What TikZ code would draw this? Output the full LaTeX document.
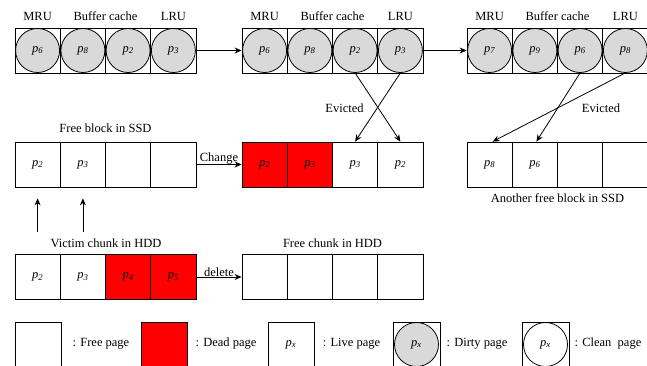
\documentclass[tikz,border=0pt]{standalone}
\usepackage{fontspec}
\setmainfont{Liberation Serif}
\usetikzlibrary{arrows.meta}
\newcommand\pg[1]{{\itshape p\textsubscript{#1}}}
\begin{document}
\begin{tikzpicture}[x=1pt,y=-1pt,
  every node/.style={font=\fontsize{12.5}{15}\selectfont},
  cell/.style={draw, line width=0.8pt, minimum width=45.25pt, minimum height=45pt, inner sep=0pt},
  dead/.style={cell, fill=red},
  dirty/.style={draw, line width=0.8pt, circle, minimum size=44pt, inner sep=0pt, fill=black!15},
  clean/.style={draw, line width=0.8pt, circle, minimum size=44pt, inner sep=0pt},
  lbl/.style={inner sep=1pt},
  arr/.style={line width=0.8pt, -{Stealth[length=7pt,width=6pt]}},
  ln/.style={line width=0.8pt}
]
\useasboundingbox (0,0) rectangle (647,366);
% ---- Row 1: buffer caches ----
\foreach \n/\x in {1/37.6,2/82.9,3/128.1,4/173.4}{\node[cell] (a\n) at (\x,50.5) {};}
\foreach \n/\x in {1/264.6,2/309.9,3/355.1,4/400.4}{\node[cell] (b\n) at (\x,50.5) {};}
\foreach \n/\x in {1/489.6,2/534.9,3/580.1,4/625.4}{\node[cell] (c\n) at (\x,50.5) {};}
\node[dirty] (a1c) at (a1) {\pg{6}};
\node[dirty] (a2c) at (a2) {\pg{8}};
\node[dirty] (a3c) at (a3) {\pg{2}};
\node[dirty] (a4c) at (a4) {\pg{3}};
\node[dirty] (b1c) at (b1) {\pg{6}};
\node[dirty] (b2c) at (b2) {\pg{8}};
\node[dirty] (b3c) at (b3) {\pg{2}};
\node[dirty] (b4c) at (b4) {\pg{3}};
\node[dirty] (c1c) at (c1) {\pg{7}};
\node[dirty] (c2c) at (c2) {\pg{9}};
\node[dirty] (c3c) at (c3) {\pg{6}};
\node[dirty] (c4c) at (c4) {\pg{8}};
\node[lbl] (amru) at (37.6,16) {MRU};
\node[lbl] (abc) at (105.5,16) {Buffer cache};
\node[lbl] (alru) at (173.4,16) {LRU};
\node[lbl] (bmru) at (264.6,16) {MRU};
\node[lbl] (bbc) at (332.5,16) {Buffer cache};
\node[lbl] (blru) at (400.4,16) {LRU};
\node[lbl] (cmru) at (489.6,16) {MRU};
\node[lbl] (cbc) at (557.5,16) {Buffer cache};
\node[lbl] (clru) at (625.4,16) {LRU};
\draw[arr] (a4.east) -- (b1.west);
\draw[arr] (b4.east) -- (c1.west);
% ---- Row 2: SSD blocks ----
\node[cell] (f1) at (37.6,164.5) {\pg{2}};
\node[cell] (f2) at (82.9,164.5) {\pg{3}};
\node[cell] (f3) at (128.1,164.5) {};
\node[cell] (f4) at (173.4,164.5) {};
\node[dead] (r1) at (264.6,164.5) {\pg{2}};
\node[dead] (r2) at (309.9,164.5) {\pg{3}};
\node[cell] (r3) at (355.1,164.5) {\pg{3}};
\node[cell] (r4) at (400.4,164.5) {\pg{2}};
\node[cell] (s1) at (489.6,164.5) {\pg{8}};
\node[cell] (s2) at (534.9,164.5) {\pg{6}};
\node[cell] (s3) at (580.1,164.5) {};
\node[cell] (s4) at (625.4,164.5) {};
\node[lbl] (fl) at (105.5,128) {Free block in SSD};
\node[lbl] (sl) at (557.5,198) {Another free block in SSD};
\draw[arr] (f4.east) -- node[lbl, above, yshift=-1pt] {Change} (r1.west);
\draw[arr] (b3c.south) -- (r4.north);
\draw[arr] (b4c.south) -- (r3.north);
\node[lbl] (ev1) at (344.5,108) {Evicted};
\draw[arr] (c4c.south) -- ([xshift=3pt]s1.north);
\draw[arr] (c3c.south) -- ([xshift=1.5pt]s2.north);
\node[lbl] (ev2) at (601,108) {Evicted};
% ---- Row 3: HDD chunks ----
\node[cell] (h1) at (37.6,277) {\pg{2}};
\node[cell] (h2) at (82.9,277) {\pg{3}};
\node[dead] (h3) at (128.1,277) {\pg{4}};
\node[dead] (h4) at (173.4,277) {\pg{5}};
\node[cell] (g1) at (264.6,277) {};
\node[cell] (g2) at (309.9,277) {};
\node[cell] (g3) at (355.1,277) {};
\node[cell] (g4) at (400.4,277) {};
\node[lbl] (hl) at (106,243) {Victim chunk in HDD};
\node[lbl] (gl) at (332.5,243) {Free chunk in HDD};
\draw[arr] (h4.east) -- node[lbl, above, yshift=-1pt] {delete} (g1.west);
\coordinate (u1) at (37.6,232);
\coordinate (u2) at (82.9,232);
\draw[arr] (u1) -- ([yshift=-11pt]f1.south);
\draw[arr] (u2) -- ([yshift=-11pt]f2.south);
% ---- Legend ----
\node[cell, minimum width=46pt] (k1) at (38,344.5) {};
\node[lbl] (k1t) at (101,344) {: Free page};
\node[dead, minimum width=46pt] (k2) at (164.5,344.5) {};
\node[lbl] (k2t) at (226,344) {: Dead page};
\node[cell, minimum width=46pt] (k3) at (291,344.5) {\pg{\itshape x}};
\node[lbl] (k3t) at (351.5,344) {: Live page};
\node[cell, minimum width=47pt] (k4) at (416.5,344.5) {};
\node[dirty] (k4c) at (k4) {\pg{x}};
\node[lbl] (k4t) at (477,344) {: Dirty page};
\node[cell, minimum width=47pt] (k5) at (545.5,344.5) {};
\node[clean] (k5c) at (k5) {\pg{x}};
\node[lbl] (k5t) at (608,344) {: Clean\ \ page};
\end{tikzpicture}
\end{document}
